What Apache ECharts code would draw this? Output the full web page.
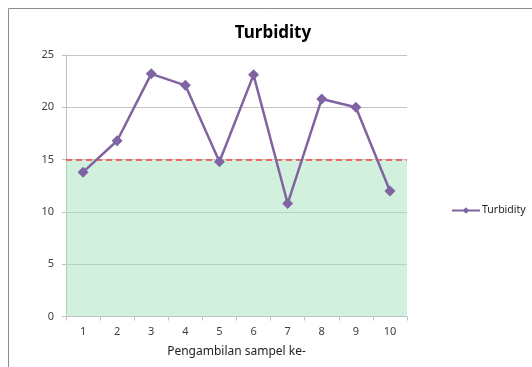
<!DOCTYPE html>
<html>
<head>
<meta charset="utf-8">
<script src="https://cdn.jsdelivr.net/npm/echarts@6/dist/echarts.min.js"></script>
<style>
  html, body { margin: 0; padding: 0; background: #fff; }
  #chart { width: 532px; height: 367px; }
</style>
</head>
<body>
<div id="chart"></div>
<script>
// data
var samples = ['1', '2', '3', '4', '5', '6', '7', '8', '9', '10'];
var turbidity = [13.8, 16.8, 23.2, 22.1, 14.8, 23.1, 10.8, 20.8, 20.0, 12.0];
var limit = 15;
var yTicks = { min: 0, max: 25, interval: 5 };

var font = 'Noto Sans';
var purple = '#8064a2';

var myChart = echarts.init(document.getElementById('chart'));
var option = {
  animation: false,
  textStyle: { fontFamily: font },
  graphic: [{
    type: 'rect',
    shape: { x: 8.5, y: 8.5, width: 600, height: 400 },
    style: { fill: 'none', stroke: '#8c8c8c', lineWidth: 1 },
    silent: true
  }],
  title: {
    text: 'Turbidity',
    left: 268,
    textAlign: 'center',
    top: 20,
    textStyle: { fontFamily: font, fontSize: 17, fontWeight: 'bold', color: '#000' }
  },
  legend: {
    data: ['Turbidity'],
    left: 446,
    top: 200,
    itemWidth: 28,
    itemHeight: 8,
    itemGap: 2,
    textStyle: { fontFamily: font, fontSize: 10.5, color: '#222', padding: [0, 0, 0, -3] }
  },
  grid: { left: 66, top: 55, width: 341, height: 261.5 },
  xAxis: {
    type: 'category',
    data: samples,
    boundaryGap: true,
    name: 'Pengambilan sampel ke-',
    nameLocation: 'middle',
    nameGap: 29,
    nameTextStyle: { fontFamily: font, fontSize: 12, color: '#222' },
    axisLine: { lineStyle: { color: '#bfbfbf' } },
    axisTick: { show: true, length: 4, lineStyle: { color: '#bfbfbf' } },
    axisLabel: { fontFamily: font, fontSize: 11, color: '#404040', margin: 10 }
  },
  yAxis: {
    type: 'value',
    min: yTicks.min,
    max: yTicks.max,
    interval: yTicks.interval,
    axisLine: { show: true, lineStyle: { color: '#bfbfbf' } },
    axisTick: { show: true, length: 4, lineStyle: { color: '#bfbfbf' } },
    axisLabel: { fontFamily: font, fontSize: 11, color: '#404040', margin: 12 },
    splitLine: { lineStyle: { color: '#c4c4c4' } }
  },
  series: [{
    name: 'Turbidity',
    type: 'line',
    data: turbidity,
    symbol: 'diamond',
    symbolSize: 11,
    lineStyle: { color: purple, width: 2.5 },
    itemStyle: { color: purple },
    z: 5,
    markArea: {
      silent: true,
      itemStyle: { color: 'rgba(165,225,190,0.5)' },
      data: [[{ yAxis: 0 }, { yAxis: limit }]]
    },
    markLine: {
      silent: true,
      symbol: 'none',
      label: { show: false },
      lineStyle: { color: '#ff4040', type: [6, 4], width: 1.5 },
      data: [{ yAxis: limit }]
    }
  }]
};
myChart.setOption(option);
</script>
</body>
</html>
